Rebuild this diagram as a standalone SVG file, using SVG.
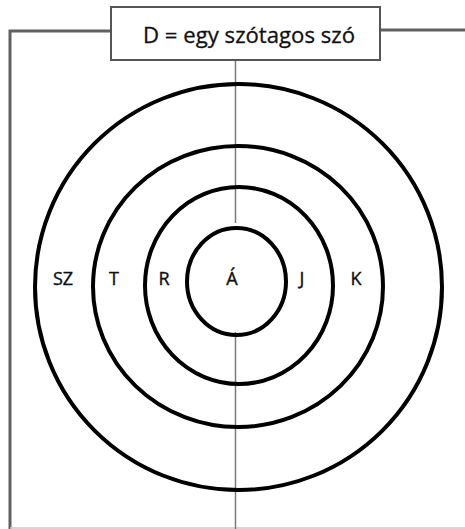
<svg xmlns="http://www.w3.org/2000/svg" width="465" height="529" viewBox="0 0 465 529">
  <style>
    .ring { fill: none; stroke: #000; stroke-width: 4; }
    .axis { fill: none; stroke: #7a7a7a; stroke-width: 1.5; }
    .frame { fill: none; stroke: #606060; stroke-width: 3; }
    .lbl { font-family: "Open Sans", "Liberation Sans", sans-serif; font-size: 18px; fill: #111; stroke: #111; stroke-width: 0.4; text-anchor: middle; }
    .title { font-family: "Open Sans", "Liberation Sans", sans-serif; font-size: 21px; fill: #111; stroke: #111; stroke-width: 0.3; text-anchor: middle; }
  </style>
  <rect x="0" y="0" width="465" height="529" fill="#fff"/>
  <g id="connectors">
    <polyline class="frame" points="111,31 10,31 10,529"/>
    <line class="frame" x1="380" y1="30" x2="465" y2="30"/>
    <line x1="10" y1="528" x2="465" y2="528" stroke="#c8c8c8" stroke-width="1.5"/>
    <line class="axis" x1="235.5" y1="60" x2="235.5" y2="223"/>
    <line class="axis" x1="235.5" y1="332" x2="235.5" y2="529"/>
  </g>
  <g id="title">
    <rect x="111" y="7" width="269" height="53" fill="#fff" stroke="#555" stroke-width="2"/>
    <text class="title" x="249" y="43" textLength="212" lengthAdjust="spacingAndGlyphs">D = egy szótagos szó</text>
  </g>
  <g id="ring-sz">
    <ellipse class="ring" cx="238.5" cy="287" rx="203.5" ry="203"/>
  </g>
  <g id="ring-t">
    <ellipse class="ring" cx="238" cy="286.5" rx="145" ry="140.5"/>
  </g>
  <g id="ring-r">
    <ellipse class="ring" cx="239" cy="285.5" rx="94" ry="98.5"/>
  </g>
  <g id="ring-a">
    <ellipse class="ring" cx="236.5" cy="281.5" rx="49.5" ry="53.5"/>
  </g>
  <g id="labels">
    <text class="lbl" x="63" y="285">SZ</text>
    <text class="lbl" x="114" y="285">T</text>
    <text class="lbl" x="164" y="285">R</text>
    <text class="lbl" x="232" y="285">Á</text>
    <text class="lbl" x="302" y="285">J</text>
    <text class="lbl" x="356" y="285">K</text>
  </g>
</svg>
